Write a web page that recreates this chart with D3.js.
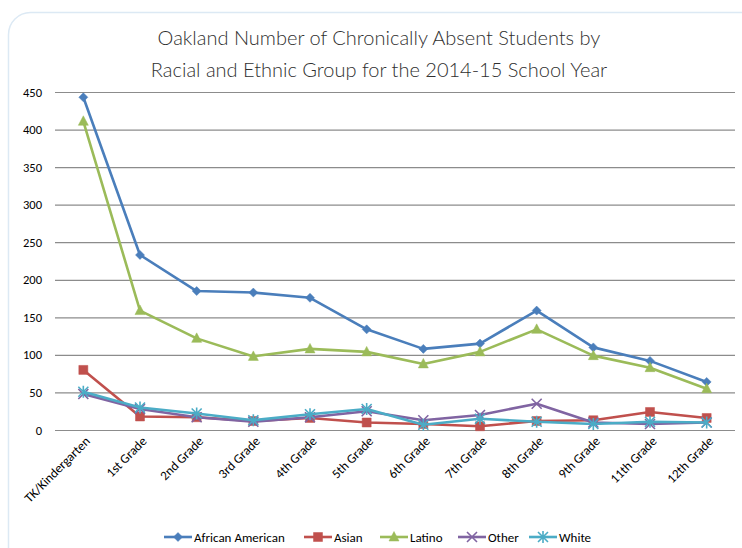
<!DOCTYPE html>
<html>
<head>
<meta charset="utf-8">
<script src="https://cdn.jsdelivr.net/npm/d3@7"></script>
<style>
  body { margin: 0; background: #fff; }
  svg { display: block; font-family: Carlito, Calibri, "Liberation Sans", Arial, sans-serif; }
</style>
</head>
<body>
<div id="chart"></div>
<script>
const grades = ['TK/Kindergarten', '1st Grade', '2nd Grade', '3rd Grade', '4th Grade', '5th Grade',
  '6th Grade', '7th Grade', '8th Grade', '9th Grade', '11th Grade', '12th Grade'];
const yTicks = [0, 50, 100, 150, 200, 250, 300, 350, 400, 450];

const africanAmerican = [443, 233, 185, 183, 176, 134, 108, 115, 159, 110, 92, 64];
const asian           = [80, 18, 17, 12, 16, 10, 8, 5, 12, 13, 24, 16];
const latino          = [411, 159, 122, 98, 108, 104, 88, 104, 134, 99, 83, 55];
const other           = [48, 28, 17, 11, 17, 25, 13, 20, 35, 10, 8, 10];
const white           = [51, 30, 22, 13, 21, 28, 7, 15, 11, 8, 11, 10];

const series = [
  { name: 'African American', values: africanAmerican, color: '#4A7EBB', marker: 'diamond' },
  { name: 'Asian',            values: asian,           color: '#C0504D', marker: 'square' },
  { name: 'Latino',           values: latino,          color: '#9BBB59', marker: 'triangle' },
  { name: 'Other',            values: other,           color: '#8064A2', marker: 'x' },
  { name: 'White',            values: white,           color: '#4BACC6', marker: 'star' }
];

const W = 742, H = 548;
const margin = { top: 92, right: 7, bottom: 118, left: 55 };
const width = W - margin.left - margin.right;
const height = H - margin.top - margin.bottom;

const svg = d3.select('#chart').append('svg')
  .attr('width', W).attr('height', H);

// Frame
svg.append('rect')
  .attr('x', 8.5).attr('y', 12.5).attr('width', 760).attr('height', 560)
  .attr('rx', 22).attr('fill', 'none')
  .attr('stroke', '#dce9f4').attr('stroke-width', 1.5);

// Title
const titleLines = ['Oakland Number of Chronically Absent Students by',
  'Racial and Ethnic Group for the 2014-15 School Year'];
titleLines.forEach((t, i) => {
  svg.append('text').attr('x', 379).attr('y', 45 + i * 32)
    .attr('text-anchor', 'middle').attr('font-family', 'Lato, "Open Sans", sans-serif')
    .attr('font-weight', 300)
    .attr('font-size', 20).attr('fill', '#2f2f2f')
    .text(t);
});

const g = svg.append('g').attr('transform', `translate(${margin.left},${margin.top})`);

const x = d3.scalePoint().domain(grades).range([0, width]).padding(0.5);
const y = d3.scaleLinear().domain([0, 450]).range([height, 0]);

// Grid
g.append('g').attr('class', 'grid')
  .call(d3.axisLeft(y).tickValues(yTicks).tickSize(-width).tickFormat(''))
  .call(s => s.select('.domain').remove())
  .selectAll('line').attr('stroke', '#8c8c8c').attr('stroke-width', 1.2);

// Y axis labels
const yAxis = g.append('g')
  .call(d3.axisLeft(y).tickValues(yTicks).tickSize(0).tickPadding(13));
yAxis.select('.domain').remove();
yAxis.selectAll('text').attr('font-size', 12.5).attr('fill', '#000')
  .attr('font-family', 'Carlito, "Liberation Sans", Arial, sans-serif');

// X axis labels
const xAxis = g.append('g').attr('transform', `translate(0,${height})`)
  .call(d3.axisBottom(x).tickSize(0).tickPadding(0));
xAxis.select('.domain').remove();
xAxis.selectAll('text')
  .attr('font-size', 13).attr('fill', '#000')
  .attr('font-family', 'Carlito, "Liberation Sans", Arial, sans-serif')
  .attr('text-anchor', 'end')
  .attr('dy', 0)
  .attr('transform', 'translate(7,12) rotate(-45)');

// Marker shapes
function markerPath(type, s) {
  switch (type) {
    case 'diamond': return `M0,${-s}L${s},0L0,${s}L${-s},0Z`;
    case 'square': return `M${-s},${-s}H${s}V${s}H${-s}Z`;
    case 'triangle': return `M0,${-s * 1.1}L${s},${s * 0.8}L${-s},${s * 0.8}Z`;
    case 'x': return `M${-s},${-s}L${s},${s}M${-s},${s}L${s},${-s}`;
    case 'star': return `M${-s},${-s}L${s},${s}M${-s},${s}L${s},${-s}M0,${-s * 1.2}V${s * 1.2}`;
  }
}
const markerSize = { diamond: 4.5, square: 4.5, triangle: 5, x: 5, star: 5 };
const isFilled = m => m === 'diamond' || m === 'square' || m === 'triangle';

const line = d3.line().x((d, i) => x(grades[i])).y(d => y(d));

series.forEach(s => {
  const sg = g.append('g');
  sg.append('path').datum(s.values)
    .attr('fill', 'none').attr('stroke', s.color).attr('stroke-width', 2.6)
    .attr('stroke-linejoin', 'round')
    .attr('d', line);
  sg.selectAll('path.m').data(s.values).enter().append('path')
    .attr('class', 'm')
    .attr('transform', (d, i) => `translate(${x(grades[i])},${y(d)})`)
    .attr('d', markerPath(s.marker, markerSize[s.marker]))
    .attr('fill', isFilled(s.marker) ? s.color : 'none')
    .attr('stroke', s.color).attr('stroke-width', isFilled(s.marker) ? 0.5 : 1.6);
});

// Legend
const legendX = [164, 304, 380, 458, 529];
const legend = svg.append('g').attr('transform', 'translate(0,537)');
series.forEach((s, i) => {
  const lg = legend.append('g').attr('transform', `translate(${legendX[i]},0)`);
  lg.append('line').attr('x1', 0).attr('x2', 28).attr('y1', 0).attr('y2', 0)
    .attr('stroke', s.color).attr('stroke-width', 2.6);
  lg.append('path').attr('transform', 'translate(14,0)')
    .attr('d', markerPath(s.marker, markerSize[s.marker]))
    .attr('fill', isFilled(s.marker) ? s.color : 'none')
    .attr('stroke', s.color).attr('stroke-width', isFilled(s.marker) ? 0.5 : 1.6);
  lg.append('text').attr('x', 30).attr('y', 4.5)
    .attr('font-size', 13).attr('fill', '#000')
    .attr('font-family', 'Carlito, "Liberation Sans", Arial, sans-serif')
    .text(s.name);
});
</script>
</body>
</html>
